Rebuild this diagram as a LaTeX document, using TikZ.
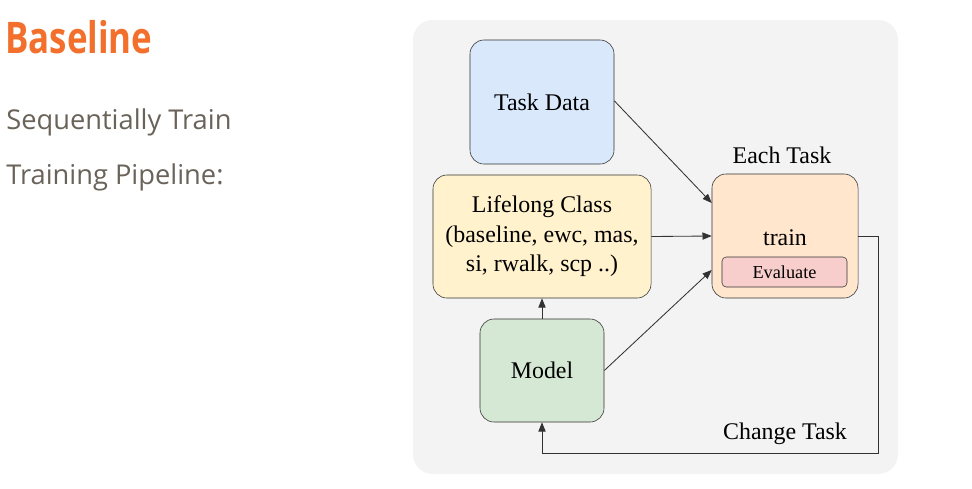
\documentclass[tikz,border=0pt]{standalone}
\usepackage{fontspec}
\setmainfont{Liberation Serif}
\newfontfamily\slidefont{Open Sans}
\newfontfamily\titlefont[FakeStretch=0.8]{Open Sans}
\usepackage{xcolor}
\usetikzlibrary{arrows.meta,positioning}

\definecolor{slideorange}{RGB}{242,112,44}
\definecolor{slidegray}{RGB}{106,99,90}
\definecolor{panelgray}{RGB}{243,243,243}
\definecolor{edgegray}{RGB}{50,50,50}
\definecolor{datablue}{RGB}{218,232,252}
\definecolor{classyellow}{RGB}{255,242,204}
\definecolor{modelgreen}{RGB}{213,232,212}
\definecolor{taskorange}{RGB}{255,230,204}
\definecolor{evalred}{RGB}{248,206,204}

\begin{document}
\begin{tikzpicture}[x=0.025cm, y=-0.025cm,
  box/.style={draw=edgegray, rounded corners=10pt, align=center, font=\fontsize{17}{21}\selectfont},
  link/.style={draw=edgegray, line width=0.6pt, -{Triangle[length=2.3mm,width=1.8mm]}}]
  \useasboundingbox (0,0) rectangle (972,488);
  \fill[white] (0,0) rectangle (972,488);

  % slide text
  \node[anchor=base west, inner sep=0, text=slideorange, font=\titlefont\bfseries\fontsize{31}{34}\selectfont] (title) at (5,53) {Baseline};
  \node[anchor=base west, inner sep=0, text=slidegray, font=\slidefont\fontsize{19.4}{22}\selectfont] (seq) at (6,129) {Sequentially Train};
  \node[anchor=base west, inner sep=0, text=slidegray, font=\slidefont\fontsize{19.4}{22}\selectfont] (pipe) at (6,184) {Training Pipeline:};

  % panel
  \fill[panelgray, rounded corners=14pt] (413,20) rectangle (898,474);

  % boxes
  \node[box, fill=datablue, minimum width=3.6cm, minimum height=3.1cm] (data) at (542,102) {Task Data};
  \node[box, fill=classyellow, minimum width=5.45cm, minimum height=3.075cm] (lifelong) at (542,236.5) {Lifelong Class\\(baseline, ewc, mas,\\si, rwalk, scp ..)};
  \node[box, fill=modelgreen, minimum width=3.1cm, minimum height=2.575cm] (model) at (542,370.5) {Model};
  \node[box, fill=taskorange, minimum width=3.65cm, minimum height=3.1cm] (train) at (785,236) {};
  \node[font=\fontsize{17}{21}\selectfont] (trainlabel) at (785,238) {train};
  \node[draw=edgegray, fill=evalred, rounded corners=3pt, minimum width=3.125cm, minimum height=0.75cm, font=\fontsize{13}{15}\selectfont] (eval) at (784.5,272) {Evaluate};
  \node[font=\fontsize{17}{21}\selectfont] (each) at (782,155) {Each Task};
  \node[font=\fontsize{17}{21}\selectfont] (change) at (785,434) {Change Task};

  % arrows
  \draw[link] ([yshift=0.03cm]data.east) -- ([yshift=0.825cm]train.west);
  \draw[link] (lifelong.east) -- (train.west);
  \draw[link] (model.east) -- ([yshift=-0.85cm]train.west);
  \draw[link] (model.north) -- (lifelong.south);
  \draw[link] (train.east) -| ++(20,217) -| (model.south);
\end{tikzpicture}
\end{document}
